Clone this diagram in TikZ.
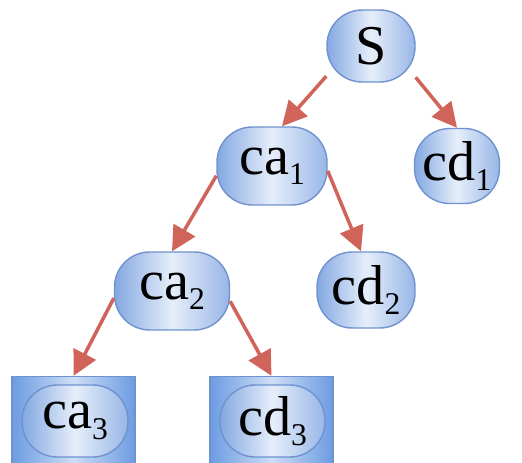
\documentclass[tikz,border=0pt]{standalone}
\usepackage{fontspec}
\setmainfont{Liberation Serif}
\usetikzlibrary{arrows.meta}
\definecolor{nodedark}{RGB}{132,168,226}
\definecolor{nodelight}{RGB}{230,238,250}
\definecolor{nodeline}{RGB}{112,146,206}
\definecolor{boxdark}{RGB}{108,156,226}
\definecolor{arrowred}{RGB}{208,100,90}
\newcommand{\sub}[1]{\raisebox{-0.4ex}{\fontsize{18}{20}\selectfont #1}}

\begin{document}
\begin{tikzpicture}[x=0.02cm,y=-0.02cm,
        state/.style={rectangle, rounded corners=20pt, draw=nodeline, thick,
            left color=nodedark, right color=nodedark!80!nodelight, middle color=nodelight,
            inner sep=0pt, font=\fontsize{32}{36}\selectfont},
        leafbox/.style={rectangle, draw=nodeline, thick,
            left color=boxdark, right color=boxdark, middle color=nodelight!80!boxdark,
            minimum width=2.46cm, minimum height=1.9cm},
        arr/.style={-{Triangle[length=14pt,width=14pt]}, draw=arrowred, line width=2pt},
        ]
        \clip (0,0) rectangle (522,463);
        \useasboundingbox (0,0) rectangle (522,463);

        \node (S) at (371,46) [state, minimum width=1.76cm, minimum height=1.44cm] {S};
        \node (ca1) at (272,166) [state, minimum width=2.2cm, minimum height=1.56cm] {ca\sub{1}};
        \node (cd1) at (457,166) [state, minimum width=1.7cm, minimum height=1.5cm] {cd\sub{1}};
        \node (ca2) at (172,291) [state, minimum width=2.3cm, minimum height=1.56cm] {ca\sub{2}};
        \node (cd2) at (366,290) [state, minimum width=1.96cm, minimum height=1.52cm] {cd\sub{2}};

        \node (ca3box) at (73.5,424) [leafbox] {};
        \node (ca3) at (75,421) [state, minimum width=2.12cm, minimum height=1.44cm] {ca\sub{3}};
        \node (cd3box) at (271.5,424) [leafbox] {};
        \node (cd3) at (272.5,421) [state, minimum width=2.1cm, minimum height=1.44cm] {cd\sub{3}};

        \draw[arr] (S.214) -- ([xshift=0.2cm]ca1.north);
        \draw[arr] (S.-35) -- (cd1.north);
        \draw[arr] (ca1.190) -- (ca2.north);
        \draw[arr] (ca1.-5) -- ([xshift=-0.1cm]cd2.north);
        \draw[arr] (ca2.187) -- (ca3box.north);
        \draw[arr] (ca2.-10) -- (cd3box.north);

    \end{tikzpicture}
\end{document}
